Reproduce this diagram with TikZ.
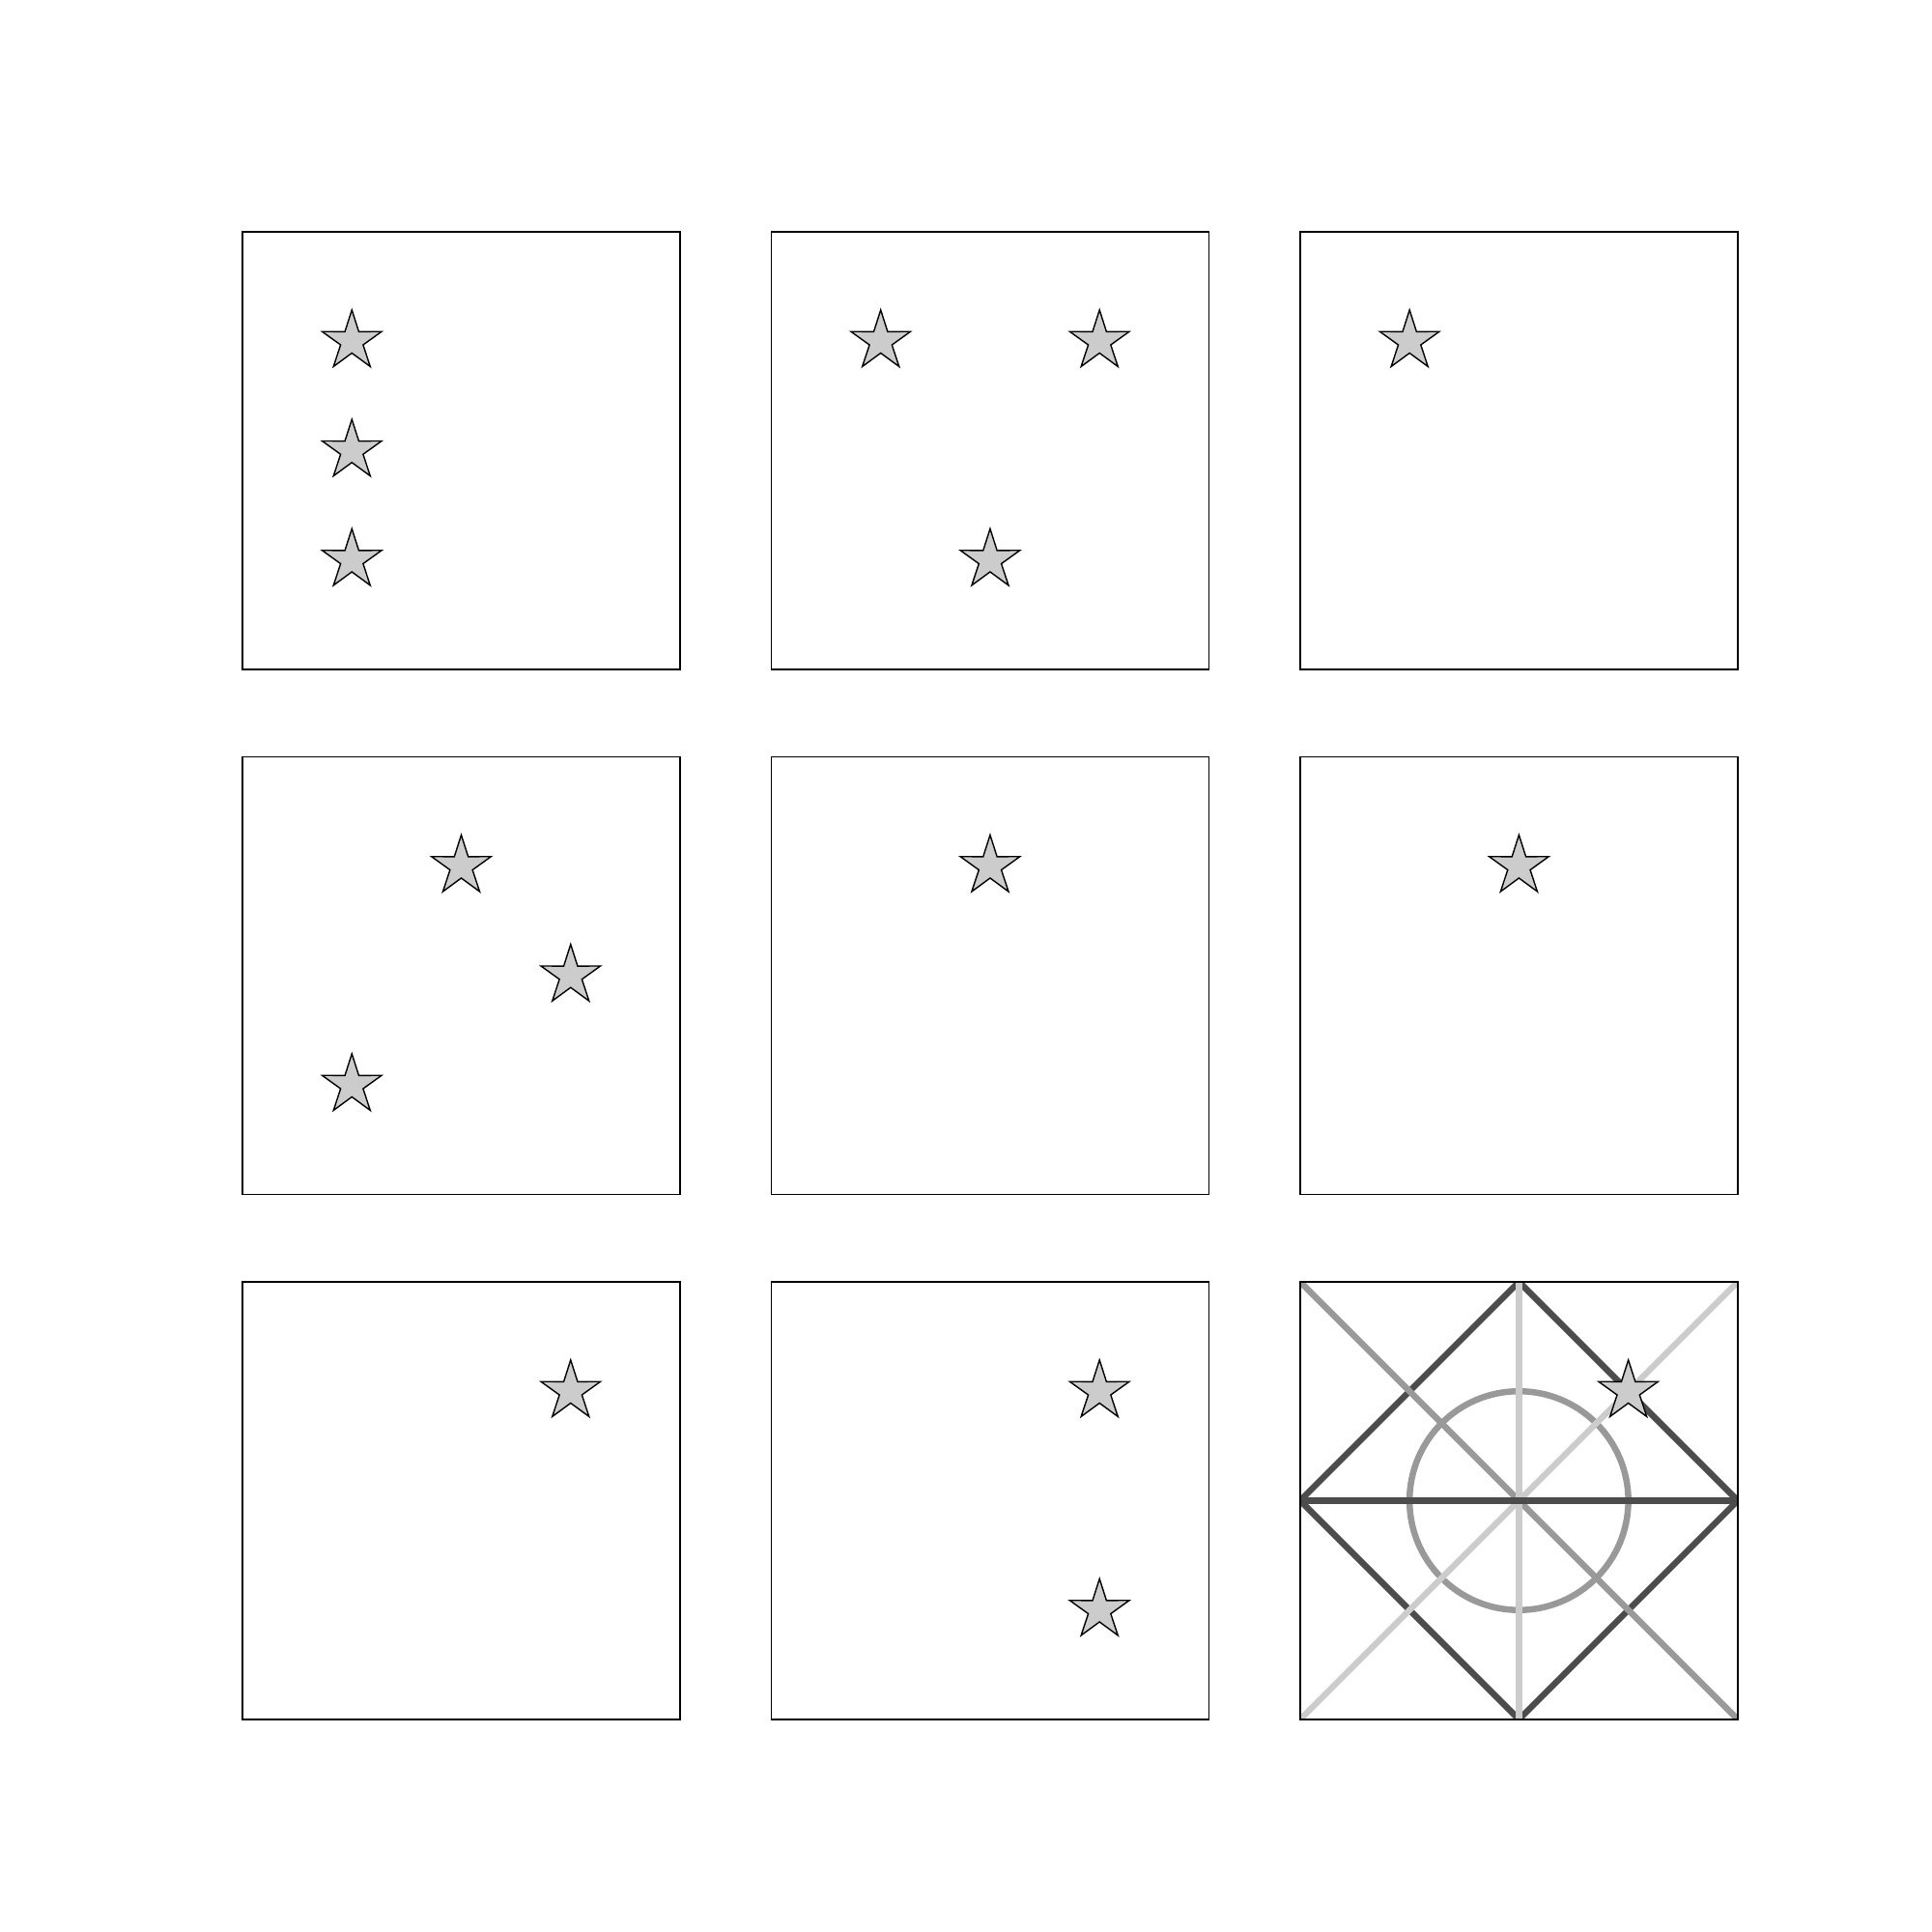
\documentclass[tikz,border=0pt]{standalone}
\usetikzlibrary{calc}
\definecolor{darkline}{gray}{0.3}
\definecolor{midline}{gray}{0.6}
\definecolor{lightline}{gray}{0.8}
\definecolor{starfill}{gray}{0.8}

\begin{document}
\begin{tikzpicture}[x=1.1325cm, y=-1.1325cm,
  frame/.style={draw=black, line width=0.4pt},
  starline/.style={fill=starfill, draw=black, line width=0.4pt, line join=miter},
  guide/.style={line width=1.85pt},
  pics/starmark/.style={code={
    \filldraw[starline] (-90:0.286) \foreach \k in {1,...,9}{
      -- ({-90+36*\k}:{0.286-0.178*mod(\k,2)})} -- cycle;}}]
  \useasboundingbox (0,0) rectangle (17.660,17.660);
  % guide lines of the last panel
  \begin{scope}[shift={(11.884,11.717)}]
    \clip (0,0) rectangle (4,4);
    \draw[guide, darkline] (0,2) -- (2,0) -- (4,2) -- (2,4) -- cycle;
    \draw[guide, midline] (0,0) -- (4,4);
    \draw[guide, midline] (2,2) circle (1);
    \draw[guide, lightline] (0,4) -- (4,0);
    \draw[guide, lightline] (2,0) -- (2,4);
    \draw[guide, darkline] (0,2) -- (4,2);
  \end{scope}
  % panel frames
  \foreach \c in {0,1,2}
    \foreach \r in {0,1,2}
      \draw[frame] ({2.2163+4.834*\c},{2.1192+4.799*\r}) rectangle ++(4,4);
  % stars: column/row of panel, then grid position inside it
  \foreach \c/\r/\x/\y in {0/0/1/1, 0/0/1/2, 0/0/1/3,
                           1/0/1/1, 1/0/3/1, 1/0/2/3,
                           2/0/1/1,
                           0/1/2/1, 0/1/3/2, 0/1/1/3,
                           1/1/2/1,
                           2/1/2/1,
                           0/2/3/1,
                           1/2/3/1, 1/2/3/3,
                           2/2/3/1}
    \pic at ({2.2163+4.834*\c+\x},{2.1192+4.799*\r+\y}) {starmark};
\end{tikzpicture}
\end{document}
